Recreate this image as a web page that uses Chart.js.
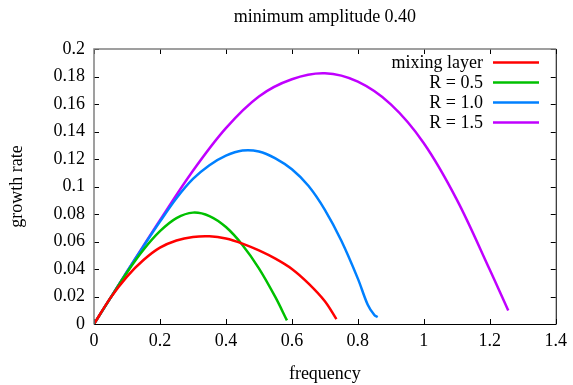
<!DOCTYPE html>
<html lang="en">
<head>
    <meta charset="UTF-8">
    <title>minimum amplitude 0.40</title>
    <script src="https://cdn.jsdelivr.net/npm/chart.js"></script>
    <style>
        html, body { margin: 0; padding: 0; background: #fff; }
        #wrap { width: 573px; height: 385px; }
    </style>
</head>
<body>
<div id="wrap"><canvas id="growthChart"></canvas></div>
<script>
    // values
    const mixingFreq = [0, 0.05, 0.1, 0.15, 0.2, 0.25, 0.3, 0.35, 0.4, 0.45, 0.5, 0.55, 0.6, 0.65, 0.7, 0.735];
    const mixingRate = [0, 0.019, 0.0345, 0.0465, 0.0555, 0.0607, 0.0633, 0.0638, 0.0622, 0.0585, 0.0535, 0.0475, 0.040, 0.0295, 0.0165, 0.0035];

    const r05Freq = [0, 0.05, 0.1, 0.15, 0.2, 0.25, 0.3, 0.35, 0.4, 0.45, 0.5, 0.55, 0.585];
    const r05Rate = [0, 0.019, 0.0375, 0.054, 0.0675, 0.077, 0.081, 0.0785, 0.0705, 0.0575, 0.0405, 0.0195, 0.0026];

    const r10Freq = [0, 0.05, 0.1, 0.15, 0.2, 0.25, 0.3, 0.35, 0.4, 0.45, 0.5, 0.55, 0.6, 0.65, 0.7, 0.75, 0.8, 0.83, 0.85, 0.86];
    const r10Rate = [0, 0.019, 0.038, 0.0565, 0.0745, 0.0915, 0.1055, 0.1155, 0.1225, 0.1262, 0.1255, 0.1205, 0.1125, 0.1005, 0.083, 0.0605, 0.033, 0.014, 0.0065, 0.005];

    const r15Freq = [0, 0.1, 0.2, 0.3, 0.4, 0.5, 0.6, 0.7, 0.8, 0.9, 1.0, 1.1, 1.2, 1.256];
    const r15Rate = [0, 0.038, 0.0755, 0.1115, 0.1425, 0.1655, 0.178, 0.1823, 0.1762, 0.1597, 0.1315, 0.0905, 0.0395, 0.0098];

    const seriesNames = ['mixing layer', 'R = 0.5', 'R = 1.0', 'R = 1.5'];
    const seriesColors = ['#ff0000', '#00c000', '#0080ff', '#c000ff'];
    const seriesFreq = [mixingFreq, r05Freq, r10Freq, r15Freq];
    const seriesRate = [mixingRate, r05Rate, r10Rate, r15Rate];

    const FONT = '"Liberation Serif", "Times New Roman", serif';
    const FS = 18;

    const fmt = v => String(parseFloat(Number(v).toFixed(4)));

    // gnuplot style box, inward mirrored ticks and key
    const frameAndKey = {
        id: 'frameAndKey',
        afterDatasetsDraw(chart) {
            const ctx = chart.ctx;
            const a = chart.chartArea;
            const xs = chart.scales.x, ys = chart.scales.y;
            const tl = 5;
            ctx.save();

            ctx.strokeStyle = '#000';
            ctx.lineWidth = 1;
            ctx.beginPath();
            xs.ticks.forEach(t => {
                const px = Math.round(xs.getPixelForValue(t.value)) + 0.5;
                ctx.moveTo(px, a.bottom); ctx.lineTo(px, a.bottom - tl);
                ctx.moveTo(px, a.top); ctx.lineTo(px, a.top + tl);
            });
            ys.ticks.forEach(t => {
                const py = Math.round(ys.getPixelForValue(t.value)) + 0.5;
                ctx.moveTo(a.left, py); ctx.lineTo(a.left + tl, py);
                ctx.moveTo(a.right, py); ctx.lineTo(a.right - tl, py);
            });
            ctx.stroke();

            // border
            ctx.beginPath();
            ctx.moveTo(a.left, a.bottom + 0.5); ctx.lineTo(a.right + 0.5, a.bottom + 0.5);
            ctx.lineTo(a.right + 0.5, a.top);
            ctx.stroke();
            ctx.strokeStyle = '#808080';
            ctx.lineWidth = 1.5;
            ctx.beginPath();
            ctx.moveTo(a.left, a.bottom + 0.5); ctx.lineTo(a.left, a.top);
            ctx.lineTo(a.right + 0.5, a.top);
            ctx.stroke();

            // key
            ctx.font = FS + 'px ' + FONT;
            ctx.textAlign = 'right';
            ctx.textBaseline = 'middle';
            chart.data.datasets.forEach((ds, i) => {
                const y = 62.5 + i * 20;
                ctx.fillStyle = '#000';
                ctx.fillText(ds.label, 483, y + 1);
                ctx.strokeStyle = ds.borderColor;
                ctx.lineWidth = 2.5;
                ctx.beginPath();
                ctx.moveTo(493, y); ctx.lineTo(539, y);
                ctx.stroke();
            });
            ctx.restore();
        }
    };

    const datasets = seriesNames.map((name, i) => ({
        label: name,
        data: seriesFreq[i].map((f, j) => ({ x: f, y: seriesRate[i][j] })),
        borderColor: seriesColors[i],
        borderWidth: 2.5,
        pointRadius: 0,
        showLine: true,
        fill: false,
        tension: 0.35
    }));

    new Chart(document.getElementById('growthChart'), {
        type: 'scatter',
        data: { datasets },
        options: {
            responsive: true,
            maintainAspectRatio: false,
            animation: false,
            devicePixelRatio: 1,
            layout: { padding: { left: 0, right: 15, top: 0, bottom: 0 } },
            plugins: {
                legend: { display: false },
                tooltip: { enabled: false },
                title: {
                    display: true,
                    text: 'minimum amplitude 0.40',
                    fullSize: false,
                    color: '#000',
                    font: { family: FONT, size: FS, weight: 'normal' },
                    padding: { top: 6, bottom: 21.4 }
                }
            },
            scales: {
                x: {
                    type: 'linear',
                    min: 0, max: 1.4,
                    grid: { display: false, drawTicks: false },
                    border: { display: false },
                    ticks: {
                        stepSize: 0.2,
                        color: '#000',
                        padding: 6,
                        maxRotation: 0,
                        font: { family: FONT, size: FS },
                        callback: fmt
                    },
                    title: {
                        display: true,
                        text: 'frequency',
                        color: '#000',
                        font: { family: FONT, size: FS },
                        padding: { top: 0, bottom: 0 }
                    },
                    afterFit(scale) { scale.height = 61; }
                },
                y: {
                    type: 'linear',
                    min: 0, max: 0.2,
                    grid: { display: false, drawTicks: false },
                    border: { display: false },
                    ticks: {
                        stepSize: 0.02,
                        color: '#000',
                        padding: 9,
                        font: { family: FONT, size: FS },
                        callback: fmt
                    },
                    title: {
                        display: true,
                        text: 'growth rate',
                        color: '#000',
                        font: { family: FONT, size: FS },
                        padding: { top: 6, bottom: 0 }
                    },
                    afterFit(scale) { scale.width = 94; }
                }
            }
        },
        plugins: [frameAndKey]
    });
</script>
</body>
</html>
